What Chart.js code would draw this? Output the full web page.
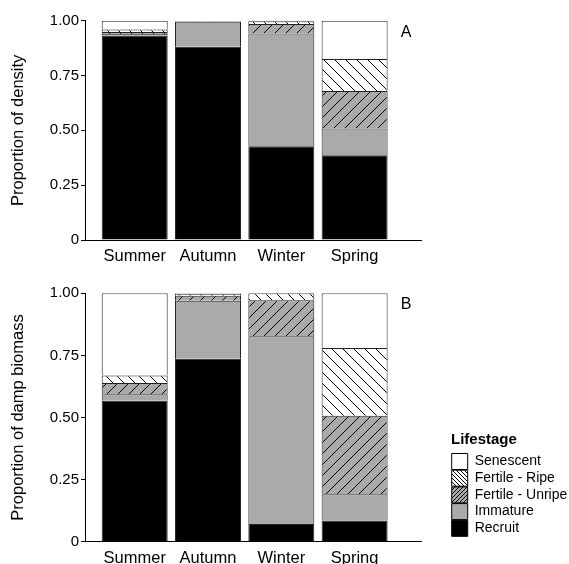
<!DOCTYPE html>
<html>
<head>
<meta charset="utf-8">
<script src="https://cdn.jsdelivr.net/npm/chart.js@4.4.1/dist/chart.umd.min.js"></script>
<style>
  body { margin: 0; background: #fff; }
  #wrap { position: relative; width: 569px; height: 564px; overflow: hidden; }
  canvas { position: absolute; left: 0; }
  #densityChart { top: 0; }
  #biomassChart { top: 270px; }
</style>
</head>
<body>
<div id="wrap">
  <canvas id="densityChart" width="569" height="270"></canvas>
  <canvas id="biomassChart" width="569" height="294"></canvas>
</div>
<script>
const seasons = ["Summer", "Autumn", "Winter", "Spring"];
// stack order, bottom to top
const stages = ["Recruit", "Immature", "Fertile - Unripe", "Fertile - Ripe", "Senescent"];

// panel A - proportion of density
const densityRecruit   = [0.933, 0.881, 0.427, 0.386];
const densityImmature  = [0.006, 0.114, 0.515, 0.123];
const densityUnripe    = [0.010, 0.003, 0.043, 0.170];
const densityRipe      = [0.011, 0.001, 0.012, 0.146];
const densitySenescent = [0.040, 0.001, 0.003, 0.175];

// panel B - proportion of damp biomass
const biomassRecruit   = [0.567, 0.737, 0.071, 0.085];
const biomassImmature  = [0.027, 0.233, 0.756, 0.106];
const biomassUnripe    = [0.045, 0.020, 0.145, 0.316];
const biomassRipe      = [0.030, 0.008, 0.028, 0.273];
const biomassSenescent = [0.331, 0.002, 0.000, 0.220];

const yTicks = [0, 0.25, 0.5, 0.75, 1];

Chart.defaults.font.family = "'Liberation Sans', Arial, sans-serif";
Chart.defaults.color = "#000";

// diagonal hatch pattern, dir "/" or "\"
function hatch(dir, gap, bg) {
  const c = document.createElement("canvas");
  c.width = gap; c.height = gap;
  const g = c.getContext("2d");
  g.fillStyle = bg;
  g.fillRect(0, 0, gap, gap);
  g.strokeStyle = "#000";
  g.lineWidth = 1;
  g.beginPath();
  if (dir === "/") {
    g.moveTo(0, gap); g.lineTo(gap, 0);
    g.moveTo(-1, 1); g.lineTo(1, -1);
    g.moveTo(gap - 1, gap + 1); g.lineTo(gap + 1, gap - 1);
  } else {
    g.moveTo(0, 0); g.lineTo(gap, gap);
    g.moveTo(-1, gap - 1); g.lineTo(1, gap + 1);
    g.moveTo(gap - 1, -1); g.lineTo(gap + 1, 1);
  }
  g.stroke();
  return g.createPattern(c, "repeat");
}

const grey = "#aaaaaa";
const barFills = ["#000000", grey, hatch("/", 11, grey), hatch("\\", 11, "#ffffff"), "#ffffff"];
// legend swatches have a finer hatch
const swatchFills = ["#000000", grey, hatch("/", 4, grey), hatch("\\", 4, "#ffffff"), "#ffffff"];

function makeDatasets(rows) {
  return stages.map((name, k) => ({
    label: name,
    data: rows[k].map((v, i) => ({ x: i, y: v })),
    backgroundColor: barFills[k],
    borderColor: "#222",
    borderWidth: 1,
    barPercentage: 0.9,
    categoryPercentage: 1
  }));
}

// x axis is linear so the axis line can run past the last bar like the original
function makeScales(title, xHeight) {
  return {
    x: {
      type: "linear",
      stacked: true,
      offset: false,
      min: -0.678,
      max: 3.915,
      afterBuildTicks: (axis) => { axis.ticks = seasons.map((s, i) => ({ value: i })); },
      afterFit: (axis) => { axis.height = xHeight; },
      ticks: { callback: (v) => seasons[v], font: { size: 16.5 }, padding: 6.5, autoSkip: false, maxRotation: 0 },
      grid: { display: false, drawTicks: false },
      border: { display: true, color: "#000", width: 1 }
    },
    y: {
      stacked: true,
      min: 0,
      max: 1,
      afterFit: (axis) => { axis.width = 85; },
      afterBuildTicks: (axis) => { axis.ticks = yTicks.map((v) => ({ value: v })); },
      ticks: { callback: (v) => (v === 0 ? "0" : v.toFixed(2)), font: { size: 15 }, padding: 2 },
      grid: { drawOnChartArea: false, drawTicks: true, tickLength: 4, color: "#000" },
      border: { display: true, color: "#000", width: 1 },
      title: { display: true, text: title, font: { size: 16.5 }, padding: { top: 9, bottom: 0 } }
    }
  };
}

// "A" / "B" tag in the top right of each panel
const panelTag = {
  id: "panelTag",
  afterDraw(chart, args, opts) {
    const { ctx, chartArea } = chart;
    ctx.save();
    ctx.font = "16px 'Liberation Sans', Arial, sans-serif";
    ctx.fillStyle = "#000";
    ctx.textAlign = "center";
    ctx.textBaseline = "middle";
    ctx.fillText(opts.text, chartArea.right - 15.5, chartArea.top + 11.5);
    ctx.restore();
  }
};

// legend sits apart from the plot, push it over after layout
const legendShift = {
  id: "legendShift",
  afterLayout(chart) {
    const lg = chart.legend;
    const dx = 451 - lg.left;
    const dy = -27;
    lg.left += dx; lg.right += dx;
    lg.top += dy; lg.bottom += dy;
  }
};

new Chart(document.getElementById("densityChart"), {
  type: "bar",
  data: {
    datasets: makeDatasets([densityRecruit, densityImmature, densityUnripe, densityRipe, densitySenescent])
  },
  options: {
    responsive: false,
    animation: false,
    layout: { padding: { top: 20.7, right: 147.3, left: 0, bottom: 0 } },
    scales: makeScales("Proportion of density", 30),
    plugins: {
      legend: { display: false },
      tooltip: { enabled: false },
      panelTag: { text: "A" }
    }
  },
  plugins: [panelTag]
});

new Chart(document.getElementById("biomassChart"), {
  type: "bar",
  data: {
    datasets: makeDatasets([biomassRecruit, biomassImmature, biomassUnripe, biomassRipe, biomassSenescent])
  },
  options: {
    responsive: false,
    animation: false,
    layout: { padding: { top: 23.3, right: 27.3, left: 0, bottom: 0 } },
    scales: makeScales("Proportion of damp biomass", 22.3),
    plugins: {
      legend: {
        display: true,
        position: "right",
        align: "end",
        reverse: true,
        maxWidth: 120,
        title: { display: true, text: "Lifestage", position: "start", font: { size: 15, weight: "bold" }, padding: { top: 0, bottom: 2 } },
        labels: {
          boxWidth: 16,
          boxHeight: 16,
          padding: 0.7,
          font: { size: 14 },
          generateLabels: (chart) => {
            const items = Chart.defaults.plugins.legend.labels.generateLabels(chart);
            items.forEach((it) => { it.fillStyle = swatchFills[it.datasetIndex]; it.strokeStyle = "#000"; });
            return items;
          }
        }
      },
      tooltip: { enabled: false },
      panelTag: { text: "B" }
    }
  },
  plugins: [panelTag, legendShift]
});
</script>
</body>
</html>
